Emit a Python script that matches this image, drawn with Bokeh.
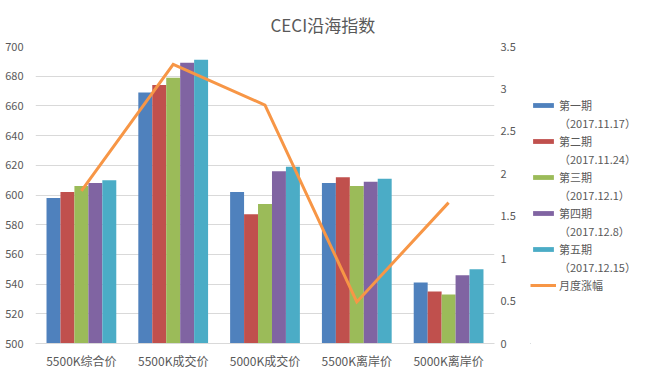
from bokeh.plotting import figure
from bokeh.layouts import row
from bokeh.models import (FactorRange, Range1d, LinearAxis, FixedTicker, SingleIntervalTicker,
                          CustomJSTickFormatter, Legend, LegendItem, ColumnDataSource)
from bokeh.transform import dodge
from bokeh.embed import file_html
from bokeh.resources import INLINE

categories = ["5500K综合价", "5500K成交价", "5000K成交价", "5500K离岸价", "5000K离岸价"]
series_names = ["第一期", "第二期", "第三期", "第四期", "第五期"]
series_dates = ["（2017.11.17）", "（2017.11.24）", "（2017.12.1）", "（2017.12.8）", "（2017.12.15）"]
period1 = [598, 669, 602, 608, 541]
period2 = [602, 674, 587, 612, 535]
period3 = [606, 679, 594, 606, 533]
period4 = [608, 689, 616, 609, 546]
period5 = [610, 691, 619, 611, 550]
monthly_change = [1.80, 3.29, 2.81, 0.49, 1.66]
line_name = "月度涨幅"

colors = ["#4F81BD", "#C0504D", "#9BBB59", "#8064A2", "#4BACC6"]
line_color = "#F79646"
FONT = "Noto Sans CJK SC"
TXT = "#595959"
GRID = "#D9D9D9"

src = ColumnDataSource(dict(cat=categories, p1=period1, p2=period2, p3=period3,
                            p4=period4, p5=period5, chg=monthly_change))

p = figure(x_range=FactorRange(*categories), y_range=Range1d(500, 700),
           width=530, height=375,
           min_border_left=35, min_border_right=36, min_border_top=46, min_border_bottom=32,
           output_backend="svg", toolbar_location=None, title="CECI沿海指数")
p.x_range.range_padding = 0
p.outline_line_color = None
p.background_fill_color = "white"

p.title.text_font = FONT
p.title.text_font_size = "17px"
p.title.text_color = TXT
p.title.text_font_style = "normal"
p.title.align = "left"
p.title.offset = 235
p.title.standoff = 19

p.extra_y_ranges = {"pct": Range1d(0, 3.5)}

bw = 0.152
offsets = [-2 * bw, -bw, 0, bw, 2 * bw]
for key, off, c in zip(["p1", "p2", "p3", "p4", "p5"], offsets, colors):
    p.vbar(x=dodge("cat", off, range=p.x_range), top=key, bottom=500, width=bw,
           source=src, fill_color=c, line_color=None)

p.line(x="cat", y="chg", source=src, y_range_name="pct", line_color=line_color,
       line_width=3, line_join="miter")

# left axis
ya = p.yaxis[0]
ya.ticker = SingleIntervalTicker(interval=20)
ya.axis_line_color = None
ya.major_tick_line_color = None
ya.minor_tick_line_color = None
ya.major_label_text_font = FONT
ya.major_label_text_font_size = "11px"
ya.major_label_text_color = TXT
ya.major_label_standoff = 6

# right axis
ra = LinearAxis(y_range_name="pct", ticker=FixedTicker(ticks=[0, 0.5, 1, 1.5, 2, 2.5, 3, 3.5]),
                formatter=CustomJSTickFormatter(code="return tick.toString();"))
ra.axis_line_color = None
ra.major_tick_line_color = None
ra.minor_tick_line_color = None
ra.major_label_text_font = FONT
ra.major_label_text_font_size = "11px"
ra.major_label_text_color = TXT
ra.major_label_standoff = 0
p.add_layout(ra, "right")

xa = p.xaxis[0]
xa.axis_line_color = GRID
xa.major_tick_line_color = None
xa.minor_tick_line_color = None
xa.major_label_text_font = FONT
xa.major_label_text_font_size = "12px"
xa.major_label_text_color = TXT
xa.major_label_standoff = 2

p.xgrid.grid_line_color = None
p.ygrid.grid_line_color = GRID
p.ygrid.ticker = SingleIntervalTicker(interval=20)

# legend panel (proxy renderers with degenerate, invisible geometry)
q = figure(width=116, height=375, x_range=Range1d(0, 1), y_range=Range1d(0, 1),
           x_axis_type=None, y_axis_type=None, min_border=0,
           output_backend="svg", toolbar_location=None)
q.outline_line_color = None
q.grid.visible = False
items = []
for n, d, c in zip(series_names, series_dates, colors):
    r = q.vbar(x=[-5], top=[-5], bottom=[-5], width=0, fill_color=c, line_color=None)
    items.append(LegendItem(label=n, renderers=[r]))
    items.append(LegendItem(label=d, renderers=[]))
lr = q.line(x=[-5, -5], y=[-5, -5], line_color=line_color, line_width=3)
items.append(LegendItem(label=line_name, renderers=[lr]))
legend = Legend(items=items, location=(0, 50), orientation="vertical")
legend.border_line_color = None
legend.background_fill_alpha = 0
legend.glyph_width = 26
legend.glyph_height = 6
legend.label_height = 14
legend.label_text_font = FONT
legend.label_text_font_size = "11px"
legend.label_text_color = TXT
legend.label_standoff = 3
legend.spacing = 2
legend.padding = 0
legend.margin = 0
q.add_layout(legend, "center")

layout = row(p, q)
open("out.html", "w").write(file_html(layout, INLINE))
